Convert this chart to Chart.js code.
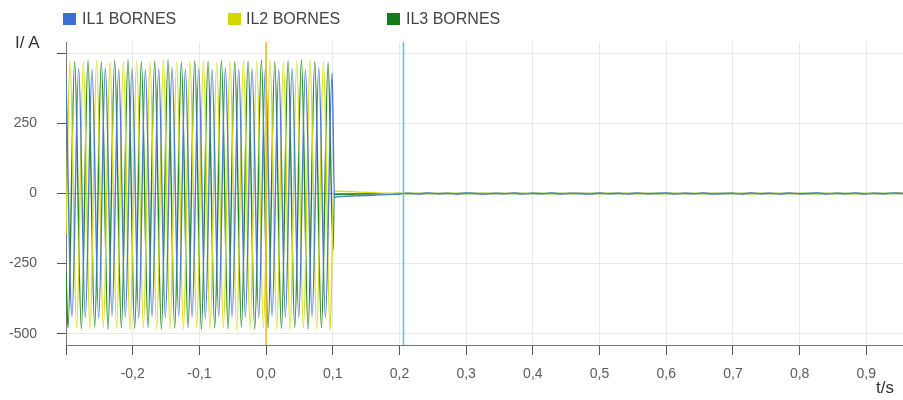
<!DOCTYPE html>
<html>
<head>
<meta charset="utf-8">
<script src="https://cdn.jsdelivr.net/npm/chart.js@4.4.1/dist/chart.umd.min.js"></script>
<style>
  html, body { margin: 0; padding: 0; background: #ffffff; }
  #wrap { position: relative; width: 903px; height: 400px; font-family: "Liberation Sans", Arial, sans-serif; }
  canvas { position: absolute; left: 0; top: 0; }
  .lg-box { position: absolute; width: 13px; height: 12px; top: 13px; }
  .lg-txt { position: absolute; top: 10px; font-size: 16px; line-height: 18px; color: #444; white-space: nowrap; }
  .ax-title { position: absolute; font-size: 17px; line-height: 18px; color: #333; white-space: nowrap; }
</style>
</head>
<body>
<div id="wrap">
  <canvas id="c" width="903" height="400"></canvas>
  <div id="legend"></div>
  <div class="ax-title" id="ytitle" style="left:15px; top:34px;"></div>
  <div class="ax-title" id="xtitle" style="left:876px; top:379px;"></div>
</div>
<script>
// ---- Data ----
const seriesNames = ["IL1 BORNES", "IL2 BORNES", "IL3 BORNES"];
const yAxisTitle = "I/ A";
const xAxisTitle = "t/s";

// IL1 (blue): times (s) and current (A)
const il1T = [-0.3, -0.291, -0.281, -0.271, -0.261, -0.251, -0.241, -0.231, -0.221, -0.211, -0.201,
  -0.191, -0.181, -0.171, -0.161, -0.151, -0.141, -0.131, -0.121, -0.111, -0.101,
  -0.091, -0.081, -0.071, -0.061, -0.051, -0.041, -0.031, -0.021, -0.011, -0.001,
  0.009, 0.019, 0.029, 0.039, 0.049, 0.059, 0.069, 0.079, 0.089, 0.099,
  0.1025, 0.106, 0.11, 0.12, 0.13, 0.14, 0.15, 0.16, 0.17, 0.18, 0.19, 0.2,
  0.213, 0.229, 0.241, 0.258, 0.272, 0.285, 0.301, 0.314, 0.33, 0.343, 0.357, 0.372, 0.386, 0.399,
  0.415, 0.428, 0.444, 0.457, 0.471, 0.486, 0.5, 0.513, 0.529, 0.542, 0.556, 0.571, 0.585, 0.6,
  0.614, 0.627, 0.643, 0.656, 0.67, 0.685, 0.699, 0.712, 0.728, 0.741, 0.755, 0.77, 0.784, 0.799,
  0.813, 0.826, 0.842, 0.855, 0.869, 0.884, 0.898, 0.911, 0.927, 0.94, 0.955];
const il1V = [420, -438, 446, -442, 441, -445, 448, -436, 443, -440, 447,
  -444, 440, -439, 445, -443, 449, -437, 442, -441, 446,
  -445, 441, -438, 448, -442, 443, -440, 445, -444, 447,
  -436, 442, -441, 446, -443, 440, -439, 448, -442, 430,
  -14, -12, -11, -10, -9, -8, -7, -6, -5, -4, -3, -2,
  1, -2, 2, -1, 1, -2, 2, 0, -2, 1, -1, 2, -2, 1,
  -1, 2, -2, 1, 0, -2, 2, -1, 1, -2, 2, -1, 0, 2,
  -2, 1, -1, 2, -2, 0, 1, -2, 2, -1, 1, -2, 2, -1,
  0, 2, -2, 1, -1, 2, -2, 1, -1, 2, 0];

// IL2 (yellow)
const il2T = [-0.3, -0.294, -0.284, -0.274, -0.264, -0.254, -0.244, -0.234, -0.224, -0.214, -0.204,
  -0.194, -0.184, -0.174, -0.164, -0.154, -0.144, -0.134, -0.124, -0.114, -0.104,
  -0.094, -0.084, -0.074, -0.064, -0.054, -0.044, -0.034, -0.024, -0.014, -0.004,
  0.006, 0.016, 0.026, 0.036, 0.046, 0.056, 0.066, 0.076, 0.086, 0.096,
  0.1015, 0.104, 0.12, 0.14, 0.16, 0.18, 0.2, 0.955];
const il2V = [-145, 472, -480, 470, -484, 474, -478, 468, -482, 471, -486,
  473, -479, 469, -483, 475, -481, 470, -485, 472, -478,
  474, -484, 468, -480, 471, -486, 473, -482, 470, -479,
  475, -483, 469, -485, 472, -480, 474, -484, 470, -488,
  10, 9, 7, 5, 3, 1, 0, 0];

// IL3 (green)
const il3T = [-0.3, -0.297, -0.287, -0.277, -0.267, -0.257, -0.247, -0.237, -0.227, -0.217, -0.207,
  -0.197, -0.187, -0.177, -0.167, -0.157, -0.147, -0.137, -0.127, -0.117, -0.107,
  -0.097, -0.087, -0.077, -0.067, -0.057, -0.047, -0.037, -0.027, -0.017, -0.007,
  0.003, 0.013, 0.023, 0.033, 0.043, 0.053, 0.063, 0.073, 0.083, 0.093,
  0.1005, 0.102, 0.12, 0.15, 0.2, 0.955];
const il3V = [-280, -478, 471, -482, 474, -476, 469, -484, 473, -479, 476,
  -481, 470, -477, 472, -483, 475, -480, 468, -478, 473,
  -485, 471, -479, 474, -482, 470, -476, 472, -484, 475,
  -480, 469, -481, 473, -478, 476, -483, 470, -479, 466,
  -200, -4, -3, -2, 0, 0];

// Cursors (s)
const cursorT = [0.0, 0.206];

// Axis ticks
const xTicks = [-0.3, -0.2, -0.1, 0.0, 0.1, 0.2, 0.3, 0.4, 0.5, 0.6, 0.7, 0.8, 0.9];
const yTicks = [-500, -250, 0, 250, 500];
const xRange = [-0.3, 0.955];
const yRange = [-540, 540];

// ---- Styles ----
const seriesColors = ["#4a7bd6", "#d9dc14", "#1f8a1f"];
const legendColors = ["#3b6fd6", "#d6d600", "#127e1a"];
const cursorColors = ["#f0bc10", "#5cc4ea"];

// ---- HTML legend and axis titles ----
const legendX = [[63, 82], [228, 246], [387, 406]];
const lg = document.getElementById('legend');
seriesNames.forEach((n, i) => {
  const b = document.createElement('div');
  b.className = 'lg-box';
  b.style.left = legendX[i][0] + 'px';
  b.style.background = legendColors[i];
  lg.appendChild(b);
  const t = document.createElement('div');
  t.className = 'lg-txt';
  t.style.left = legendX[i][1] + 'px';
  t.textContent = n;
  lg.appendChild(t);
});
document.getElementById('ytitle').textContent = yAxisTitle;
document.getElementById('xtitle').textContent = xAxisTitle;

// ---- Build datasets ----
const zip = (ts, vs) => ts.map((t, i) => ({x: t, y: vs[i]}));
const cursorSets = cursorT.map((c, i) => ({
  label: 'cursor' + i,
  data: [{x: c, y: yRange[0]}, {x: c, y: yRange[1]}],
  borderColor: cursorColors[i],
  borderWidth: 1.5,
  pointRadius: 0,
  tension: 0
}));
const waveSets = [[il1T, il1V], [il2T, il2V], [il3T, il3V]].map((s, i) => ({
  label: seriesNames[i],
  data: zip(s[0], s[1]),
  borderColor: seriesColors[i],
  backgroundColor: legendColors[i],
  borderWidth: 1.4,
  pointRadius: 0,
  cubicInterpolationMode: 'monotone'
}));

new Chart(document.getElementById('c'), {
  type: 'line',
  data: { datasets: cursorSets.concat(waveSets) },
  options: {
    responsive: false,
    animation: false,
    devicePixelRatio: 1,
    layout: { padding: { left: 0, right: 0, top: 42, bottom: 0 } },
    plugins: { legend: { display: false }, tooltip: { enabled: false } },
    scales: {
      x: {
        type: 'linear',
        min: xRange[0], max: xRange[1],
        afterBuildTicks: (ax) => { ax.ticks = xTicks.map(v => ({value: v})); },
        afterFit: (ax) => { ax.height = 55; },
        ticks: {
          padding: 11,
          color: '#5a5a5a',
          font: { family: '"Liberation Sans", Arial, sans-serif', size: 14 },
          maxRotation: 0,
          autoSkip: false,
          callback: (v) => (Math.abs(v - xRange[0]) < 1e-9 ? '' : v.toFixed(1).replace('.', ','))
        },
        grid: { color: '#e8e8e8', tickColor: '#555', tickLength: 10, drawTicks: true },
        border: { color: '#777', width: 1 }
      },
      y: {
        type: 'linear',
        min: yRange[0], max: yRange[1],
        afterBuildTicks: (ax) => { ax.ticks = yTicks.map(v => ({value: v})); },
        afterFit: (ax) => { ax.width = 66; },
        ticks: {
          padding: 20,
          color: '#5a5a5a',
          font: { family: '"Liberation Sans", Arial, sans-serif', size: 14 },
          autoSkip: false,
          callback: (v) => (v === yTicks[yTicks.length - 1] ? '' : String(v))
        },
        grid: {
          color: (ctx) => (ctx.tick && ctx.tick.value === 0 ? '#8a8a8a' : '#e8e8e8'),
          tickColor: '#555', tickLength: 9, drawTicks: true
        },
        border: { color: '#777', width: 1 }
      }
    }
  }
});
</script>
</body>
</html>
